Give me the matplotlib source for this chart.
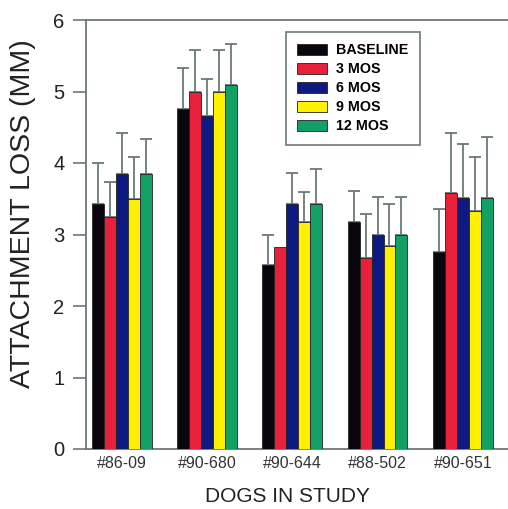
import numpy as np
import matplotlib.pyplot as plt

dogs = ['#86-09', '#90-680', '#90-644', '#88-502', '#90-651']
series = ['BASELINE', '3 MOS', '6 MOS', '9 MOS', '12 MOS']

# mean attachment loss (mm), one list per time point
baseline = [3.42, 4.76, 2.57, 3.17, 2.76]
mos3 = [3.24, 5.00, 2.83, 2.67, 3.58]
mos6 = [3.84, 4.66, 3.42, 3.00, 3.51]
mos9 = [3.50, 5.00, 3.17, 2.84, 3.33]
mos12 = [3.84, 5.09, 3.42, 3.00, 3.51]

# top of error bar (mean + sd)
baseline_top = [4.00, 5.33, 2.99, 3.61, 3.35]
mos3_top = [3.74, 5.58, np.nan, 3.28, 4.42]
mos6_top = [4.42, 5.17, 3.86, 3.53, 4.26]
mos9_top = [4.09, 5.58, 3.60, 3.43, 4.09]
mos12_top = [4.33, 5.67, 3.92, 3.53, 4.37]

colors = ['#0a0610', '#e8203a', '#0c1a82', '#fff000', '#12a064']
grey = '#6b7878'

means = [baseline, mos3, mos6, mos9, mos12]
tops = [baseline_top, mos3_top, mos6_top, mos9_top, mos12_top]

plt.rcParams['font.family'] = ['Liberation Sans', 'DejaVu Sans']

fig = plt.figure(figsize=[5.08, 5.09], dpi=100)
ax = fig.add_axes([86/508, 60/509, 422/508, 429/509])

x = np.arange(len(dogs))
w = 0.14
for i in range(len(series)):
    xs = x + (i - 2) * w
    m = np.array(means[i])
    t = np.array(tops[i])
    ax.bar(xs, m, width=w, color=colors[i], edgecolor='#222222', linewidth=0.6,
           label=series[i], zorder=3)
    err = t - m
    ok = ~np.isnan(err)
    ax.errorbar(xs[ok], m[ok], yerr=[np.zeros(ok.sum()), err[ok]], fmt='none',
                ecolor=grey, elinewidth=1.3, capsize=4, capthick=1.3, zorder=2)

ax.set_xlim(-0.42, 4.53)
ax.set_ylim(0, 6)
ax.set_yticks(range(7))
ax.set_xticks(x)
ax.set_xticklabels(dogs, fontsize=11.5, color='#333333')
ax.tick_params(axis='y', direction='out', length=9.5, width=1.2, color=grey,
               labelsize=14.5, pad=6, labelcolor='#222222')
ax.tick_params(axis='x', direction='in', length=3, width=1, color=grey, pad=5)

for s in ['left', 'top', 'bottom']:
    ax.spines[s].set_color(grey)
    ax.spines[s].set_linewidth(1.3)
ax.spines['right'].set_visible(False)

fig.text(23/508, 1 - 214/509, 'ATTACHMENT LOSS (MM)', rotation=90,
         ha='center', va='center', fontsize=20.5, color='#222222')
fig.text(287/508, 1 - 497/509, 'DOGS IN STUDY', ha='center', va='center',
         fontsize=15, color='#222222')

leg = ax.legend(loc='upper left', bbox_to_anchor=(286/508, 1 - 32/509),
                bbox_transform=fig.transFigure,
                prop={'weight': 'bold', 'size': 10.3},
                handlelength=2.1, handleheight=0.85, labelspacing=0.35,
                handletextpad=0.6, borderpad=0.8, borderaxespad=0,
                fancybox=False, framealpha=1)
leg.get_frame().set_edgecolor(grey)
leg.get_frame().set_linewidth(1.2)

plt.savefig('out.png', dpi=100, facecolor='white')
